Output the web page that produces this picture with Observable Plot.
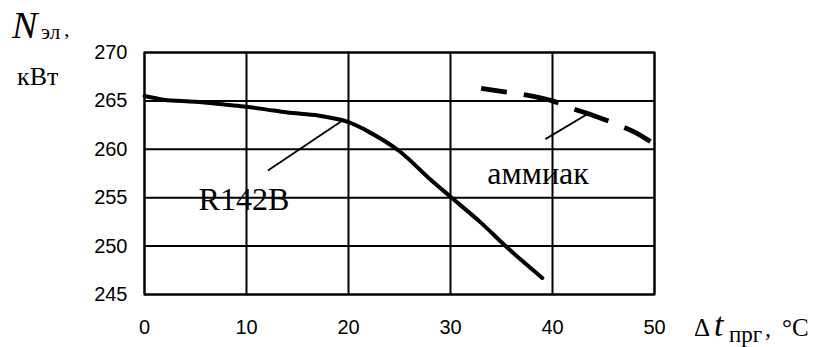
<!DOCTYPE html>
<html>
<head>
<meta charset="utf-8">
<script src="https://cdn.jsdelivr.net/npm/d3@7"></script>
<script src="https://cdn.jsdelivr.net/npm/@observablehq/plot@0.6"></script>
<style>
  html, body { margin: 0; padding: 0; background: #fff; }
  #chart { width: 829px; height: 347px; }
</style>
</head>
<body>
<div id="chart"></div>
<script>
// R142B curve: Δt (°C) vs N (kW)
const r142bX = [0, 1, 2, 5, 8, 10, 12, 14, 17, 19, 20, 22, 25, 28, 30, 33, 35, 37, 39];
const r142bY = [265.5, 265.3, 265.1, 264.9, 264.6, 264.4, 264.1, 263.8, 263.5, 263.1, 262.8, 261.8, 259.8, 256.9, 255.1, 252.4, 250.4, 248.5, 246.7];
// Ammonia curve (dashed)
const ammoniaX = [33, 35.5, 38, 40, 42, 44, 46, 48, 49.6];
const ammoniaY = [266.3, 265.9, 265.5, 265.0, 264.2, 263.5, 262.7, 261.8, 260.8];
// Tick labels
const xTicks = [0, 10, 20, 30, 40, 50];
const yTicks = [245, 250, 255, 260, 265, 270];
// Curve labels and leader lines
const labelNames = ["R142B", "аммиак"];
const labelX = [5.3, 33.6];
const labelY = [254.75, 257.45];
const leaderX1 = [12.1, 39.3];
const leaderY1 = [257.8, 261.05];
const leaderX2 = [19.3, 43.6];
const leaderY2 = [262.9, 263.74];

const r142b = r142bX.map((x, i) => ({x, y: r142bY[i]}));
const ammonia = ammoniaX.map((x, i) => ({x, y: ammoniaY[i]}));
const labels = labelNames.map((t, i) => ({t, x: labelX[i], y: labelY[i]}));
const leaders = leaderX1.map((x1, i) => ({x1, y1: leaderY1[i], x2: leaderX2[i], y2: leaderY2[i]}));

const plot = Plot.plot({
  width: 829,
  height: 347,
  marginLeft: 144,
  marginRight: 175,
  marginTop: 52,
  marginBottom: 53,
  style: {background: "#fff", color: "#000", fontFamily: "'Liberation Sans', Arial, sans-serif"},
  x: {domain: [0, 50]},
  y: {domain: [245, 270]},
  marks: [
    Plot.gridX(xTicks, {stroke: "#000", strokeOpacity: 1, strokeWidth: 2}),
    Plot.gridY(yTicks, {stroke: "#000", strokeOpacity: 1, strokeWidth: 2}),
    Plot.frame({stroke: "#000", strokeWidth: 2}),
    Plot.axisX(xTicks, {tickSize: 0, tickPadding: 25, fontSize: 20, label: null, fill: "#000"}),
    Plot.axisY(yTicks, {tickSize: 0, tickPadding: 17, fontSize: 20, label: null, fill: "#000"}),
    Plot.line(r142b, {x: "x", y: "y", stroke: "#000", strokeWidth: 4, curve: "catmull-rom"}),
    Plot.line(ammonia, {x: "x", y: "y", stroke: "#000", strokeWidth: 4.8, curve: "catmull-rom", strokeDasharray: "36,17", strokeDashoffset: 10, strokeLinecap: "butt"}),
    Plot.link(leaders, {x1: "x1", y1: "y1", x2: "x2", y2: "y2", stroke: "#000", strokeWidth: 1.8}),
    Plot.text(labels, {x: "x", y: "y", text: "t", textAnchor: "start", fontSize: 32, fontFamily: "'Liberation Serif', 'Times New Roman', serif", fill: "#000"})
  ]
});

const svg = d3.select(plot);
const serif = "'Liberation Serif', 'Times New Roman', serif";
function addText(str, x, y, size, opts = {}) {
  const t = svg.append("text")
    .attr("x", x).attr("y", y)
    .attr("text-anchor", "start")
    .attr("font-family", serif)
    .attr("font-size", size)
    .attr("fill", "#000")
    .text(str);
  if (opts.italic) t.attr("font-style", "italic");
  return t;
}
// Y axis title: N_эл, кВт
addText("N", 12, 38, 38, {italic: true});
addText("эл", 41, 39, 21);
addText(",", 64, 36, 22);
addText("кВт", 17, 85, 26);
// X axis title: Δt_прг, °C
addText("Δ", 694, 336, 25);
addText("t", 714, 336, 34, {italic: true});
addText("прг", 729, 342, 23);
addText(",", 765, 336, 24);
addText("°C", 782, 336, 25);

document.getElementById("chart").appendChild(plot);
</script>
</body>
</html>
